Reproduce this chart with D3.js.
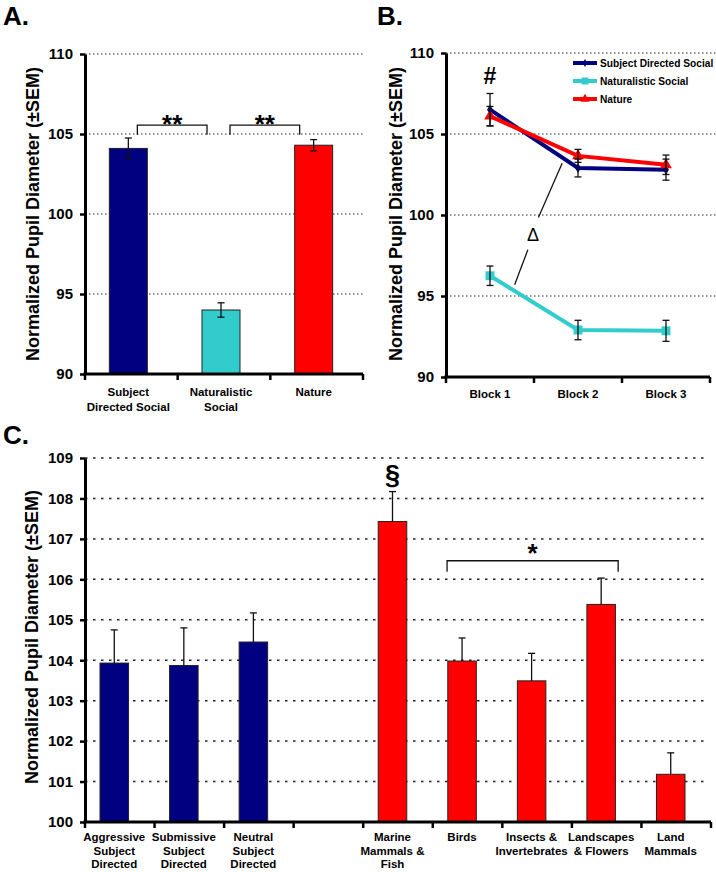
<!DOCTYPE html>
<html><head><meta charset="utf-8">
<script src="https://cdn.jsdelivr.net/npm/d3@7"></script>
<style>
html,body{margin:0;padding:0;background:#fff;}
text{font-family:"Liberation Sans",Arial,sans-serif;font-weight:bold;fill:#000;}
</style></head>
<body><svg id="c" width="716" height="872"></svg>
<script>
// ---------- DATA ----------
const catsA = ["Subject Directed Social", "Naturalistic Social", "Nature"];
const labelsA = [["Subject", "Directed Social"], ["Naturalistic", "Social"], ["Nature"]];
const meansA = [104.1, 94.0, 104.3];
const semA = [0.65, 0.45, 0.35];
const ticksA = [90, 95, 100, 105, 110];

const blocks = ["Block 1", "Block 2", "Block 3"];
const seriesB = ["Subject Directed Social", "Naturalistic Social", "Nature"];
const sdsB = [106.5, 102.9, 102.8];
const sdsErrB = [1.0, 0.55, 0.65];
const natSocB = [96.25, 92.9, 92.85];
const natSocErrB = [0.6, 0.6, 0.65];
const natureB = [106.1, 103.65, 103.1];
const natureErrB = [0.6, 0.4, 0.6];
const ticksB = [90, 95, 100, 105, 110];

const catsC = ["Aggressive Subject Directed", "Submissive Subject Directed", "Neutral Subject Directed", "",
  "Marine Mammals & Fish", "Birds", "Insects & Invertebrates", "Landscapes & Flowers", "Land Mammals"];
const labelsC = [["Aggressive", "Subject", "Directed"], ["Submissive", "Subject", "Directed"], ["Neutral", "Subject", "Directed"], [],
  ["Marine", "Mammals &", "Fish"], ["Birds"], ["Insects &", "Invertebrates"], ["Landscapes", "& Flowers"], ["Land", "Mammals"]];
const groupC = ["social", "social", "social", null, "nature", "nature", "nature", "nature", "nature"];
const meansC = [103.93, 103.87, 104.45, null, 107.43, 103.98, 103.49, 105.38, 101.18];
const semC = [0.82, 0.93, 0.72, null, 0.74, 0.57, 0.68, 0.65, 0.53];
const ticksC = [100, 101, 102, 103, 104, 105, 106, 107, 108, 109];

// ---------- STYLE ----------
const NAVY = "#000080", TEAL = "#33CCCC", RED = "#FF0000";
const colA = [NAVY, TEAL, RED];
const colB = [NAVY, TEAL, RED];
const colC = {social: NAVY, nature: RED};
const svg = d3.select("#c");
const yTitle = "Normalized Pupil Diameter (±SEM)";

function yAxis(g, y, ticks, x0, x1, dash, gw) {
  g.selectAll(null).data(ticks.slice(1)).enter().append("line")
    .attr("x1", x0).attr("x2", x1).attr("y1", d => y(d)).attr("y2", d => y(d))
    .attr("stroke", "#222").attr("stroke-width", gw).attr("stroke-dasharray", dash);
  const ax = g.append("g").attr("transform", `translate(${x0},0)`)
    .call(d3.axisLeft(y).tickValues(ticks).tickSize(5).tickSizeOuter(0).tickPadding(7));
  ax.select(".domain").attr("stroke", "#000").attr("stroke-width", 3);
  ax.selectAll(".tick line").attr("stroke", "#000").attr("stroke-width", 2.5);
  ax.selectAll(".tick text").style("font-size", "15px").style("font-family", "Liberation Sans, Arial, sans-serif").style("font-weight", "bold").attr("fill", "#000");
}
function xAxisLine(g, x0, x1, yPos, tickXs) {
  g.append("line").attr("x1", x0 - 1.5).attr("x2", x1).attr("y1", yPos).attr("y2", yPos)
    .attr("stroke", "#000").attr("stroke-width", 3);
  g.selectAll(null).data(tickXs).enter().append("line")
    .attr("x1", d => d).attr("x2", d => d).attr("y1", yPos).attr("y2", yPos + 6)
    .attr("stroke", "#000").attr("stroke-width", 2.5);
}
function multiLabel(g, x, y0, lines, lh, fs) {
  const t = g.append("text").attr("text-anchor", "middle").style("font-size", fs + "px");
  lines.forEach((l, i) => t.append("tspan").attr("x", x).attr("y", y0 + i * lh).text(l));
}
function rotTitle(x, yc) {
  svg.append("text").attr("transform", `translate(${x},${yc}) rotate(-90)`)
    .attr("text-anchor", "middle").style("font-size", "18px").text(yTitle);
}
function panelLabel(t, x, y) {
  svg.append("text").attr("x", x).attr("y", y).style("font-size", "26px").text(t);
}

// ---------- PANEL A ----------
{
  const g = svg.append("g");
  const y = d3.scaleLinear().domain([90, 110]).range([374, 54]);
  const x = d3.scaleBand().domain(catsA).range([85, 363]).paddingInner(0).paddingOuter(0);
  yAxis(g, y, ticksA, 85, 363, "1.5,2.5", 1);
  const bw = x.bandwidth() * 0.41, off = -3;
  const cx = d => x(d) + x.bandwidth() / 2 + off;
  g.selectAll("rect.a").data(catsA).enter().append("rect")
    .attr("x", d => cx(d) - bw / 2).attr("width", bw)
    .attr("y", (d, i) => y(meansA[i])).attr("height", (d, i) => y(90) - y(meansA[i]))
    .attr("fill", (d, i) => colA[i]).attr("stroke", "#222").attr("stroke-width", 1);
  catsA.forEach((d, i) => {
    const c = cx(d), t = y(meansA[i] + semA[i]), b = y(meansA[i] - semA[i]);
    g.append("line").attr("x1", c).attr("x2", c).attr("y1", t).attr("y2", b).attr("stroke", "#111").attr("stroke-width", 1.3);
    [t, b].forEach(v => g.append("line").attr("x1", c - 3.5).attr("x2", c + 3.5).attr("y1", v).attr("y2", v).attr("stroke", "#111").attr("stroke-width", 1.3));
  });
  xAxisLine(g, 85, 363, y(90), [85, x(catsA[1]), x(catsA[2]), 363]);
  catsA.forEach((d, i) => multiLabel(g, cx(d), 396, labelsA[i], 15, 11.5));
  const brackets = [[0, 1], [1, 2]];
  brackets.forEach(([a, b]) => {
    const xa = cx(catsA[a]) + 9, xb = cx(catsA[b]) - 14, yt = y(105.55), yl = y(104.95);
    g.append("path").attr("d", `M${xa},${yl}V${yt}H${xb}V${yl}`).attr("fill", "none").attr("stroke", "#111").attr("stroke-width", 1.3);
    g.append("text").attr("x", (xa + xb) / 2).attr("y", yt + 8).attr("text-anchor", "middle").style("font-size", "26px").text("**");
  });
  rotTitle(39, 214);
  panelLabel("A.", 3, 25);
}

// ---------- PANEL B ----------
{
  const g = svg.append("g");
  const y = d3.scaleLinear().domain([90, 110]).range([377, 53]);
  const xb = d3.scaleBand().domain(blocks).range([446, 710]);
  const x = d3.scalePoint().domain(blocks).range([446, 710]).padding(0.5);
  yAxis(g, y, ticksB, 446, 716, "1.5,2.5", 1);
  xAxisLine(g, 446, 710, y(90), [446, xb(blocks[1]), xb(blocks[2]), 710]);
  blocks.forEach(b => g.append("text").attr("x", x(b)).attr("y", 398).attr("text-anchor", "middle").style("font-size", "11.5px").text(b));
  const series = [
    {name: seriesB[0], v: sdsB, e: sdsErrB, c: colB[0], m: d3.symbolDiamond, ms: 30},
    {name: seriesB[1], v: natSocB, e: natSocErrB, c: colB[1], m: d3.symbolSquare, ms: 80},
    {name: seriesB[2], v: natureB, e: natureErrB, c: colB[2], m: d3.symbolTriangle, ms: 60}
  ];
  const line = d3.line().x((d, i) => x(blocks[i])).y(d => y(d));
  [1, 0, 2].forEach(k => {
    const s = series[k];
    g.append("path").datum(s.v).attr("d", line).attr("fill", "none").attr("stroke", s.c).attr("stroke-width", 4);
    s.v.forEach((v, i) => {
      g.append("path").attr("d", d3.symbol(s.m, s.ms)()).attr("transform", `translate(${x(blocks[i])},${y(v)})`).attr("fill", s.c);
    });
  });
  [1, 0, 2].forEach(k => {
    const s = series[k];
    s.v.forEach((v, i) => {
      const c = x(blocks[i]), t = y(v + s.e[i]), b = y(v - s.e[i]);
      g.append("line").attr("x1", c).attr("x2", c).attr("y1", t).attr("y2", b).attr("stroke", "#111").attr("stroke-width", 1.3);
      [t, b].forEach(q => g.append("line").attr("x1", c - 3.5).attr("x2", c + 3.5).attr("y1", q).attr("y2", q).attr("stroke", "#111").attr("stroke-width", 1.3));
    });
  });
  series.forEach((s, i) => {
    const ly = 63 + i * 18;
    g.append("line").attr("x1", 573).attr("x2", 597).attr("y1", ly).attr("y2", ly).attr("stroke", s.c).attr("stroke-width", 4);
    g.append("path").attr("d", d3.symbol(s.m, s.ms * 0.6)()).attr("transform", `translate(585,${ly})`).attr("fill", s.c);
    g.append("text").attr("x", 600).attr("y", ly + 4).style("font-size", "10.2px").text(s.name);
  });
  const step = x.step();
  const px = f => x(blocks[0]) + f * step;
  g.append("text").attr("x", x(blocks[0])).attr("y", y(108.6) + 8).attr("text-anchor", "middle").style("font-size", "23px").text("#");
  g.append("line").attr("x1", px(0.28)).attr("y1", y(95.7)).attr("x2", px(0.43)).attr("y2", y(97.85)).attr("stroke", "#111").attr("stroke-width", 1.3);
  g.append("line").attr("x1", px(0.55)).attr("y1", y(99.85)).attr("x2", px(0.82)).attr("y2", y(103.2)).attr("stroke", "#111").attr("stroke-width", 1.3);
  g.append("text").attr("x", px(0.49)).attr("y", y(98.85) + 7).attr("text-anchor", "middle").style("font-size", "18px").style("font-weight", "normal").text("Δ");
  rotTitle(402, 214);
  panelLabel("B.", 377, 25);
}

// ---------- PANEL C ----------
{
  const g = svg.append("g");
  const y = d3.scaleLinear().domain([100, 109]).range([822, 458]);
  const x = d3.scaleBand().domain(d3.range(catsC.length)).range([85, 711]);
  yAxis(g, y, ticksC, 85, 704, "2.5,5.5", 1.5);
  const bw = x.bandwidth() * 0.41, off = -5.5;
  const cx = i => x(i) + x.bandwidth() / 2 + off;
  const idx = d3.range(catsC.length).filter(i => meansC[i] != null);
  g.selectAll("rect.c").data(idx).enter().append("rect")
    .attr("x", i => cx(i) - bw / 2).attr("width", bw)
    .attr("y", i => y(meansC[i])).attr("height", i => y(100) - y(meansC[i]))
    .attr("fill", i => colC[groupC[i]]).attr("stroke", "#222").attr("stroke-width", 1);
  idx.forEach(i => {
    const c = cx(i), t = y(meansC[i] + semC[i]), b = y(meansC[i]);
    g.append("line").attr("x1", c).attr("x2", c).attr("y1", t).attr("y2", b).attr("stroke", "#111").attr("stroke-width", 1.3);
    g.append("line").attr("x1", c - 3.5).attr("x2", c + 3.5).attr("y1", t).attr("y2", t).attr("stroke", "#111").attr("stroke-width", 1.3);
  });
  xAxisLine(g, 85, 711, y(100), d3.range(catsC.length + 1).map(i => i < catsC.length ? x(i) : 711));
  labelsC.forEach((l, i) => multiLabel(g, cx(i), 841, l, 13.5, 11.5));
  const xa = cx(5) - 15, xb2 = cx(7) + 17, yt = y(106.46), yl = y(106.19);
  g.append("path").attr("d", `M${xa},${yl}V${yt}H${xb2}V${yl}`).attr("fill", "none").attr("stroke", "#111").attr("stroke-width", 1.3);
  g.append("text").attr("x", (xa + xb2) / 2).attr("y", yt + 1).attr("text-anchor", "middle").style("font-size", "26px").text("*");
  g.append("text").attr("x", cx(4)).attr("y", y(108.6) + 10).attr("text-anchor", "middle").style("font-size", "27px").text("§");
  rotTitle(38, 637);
  panelLabel("C.", 3, 444);
}
</script></body></html>
